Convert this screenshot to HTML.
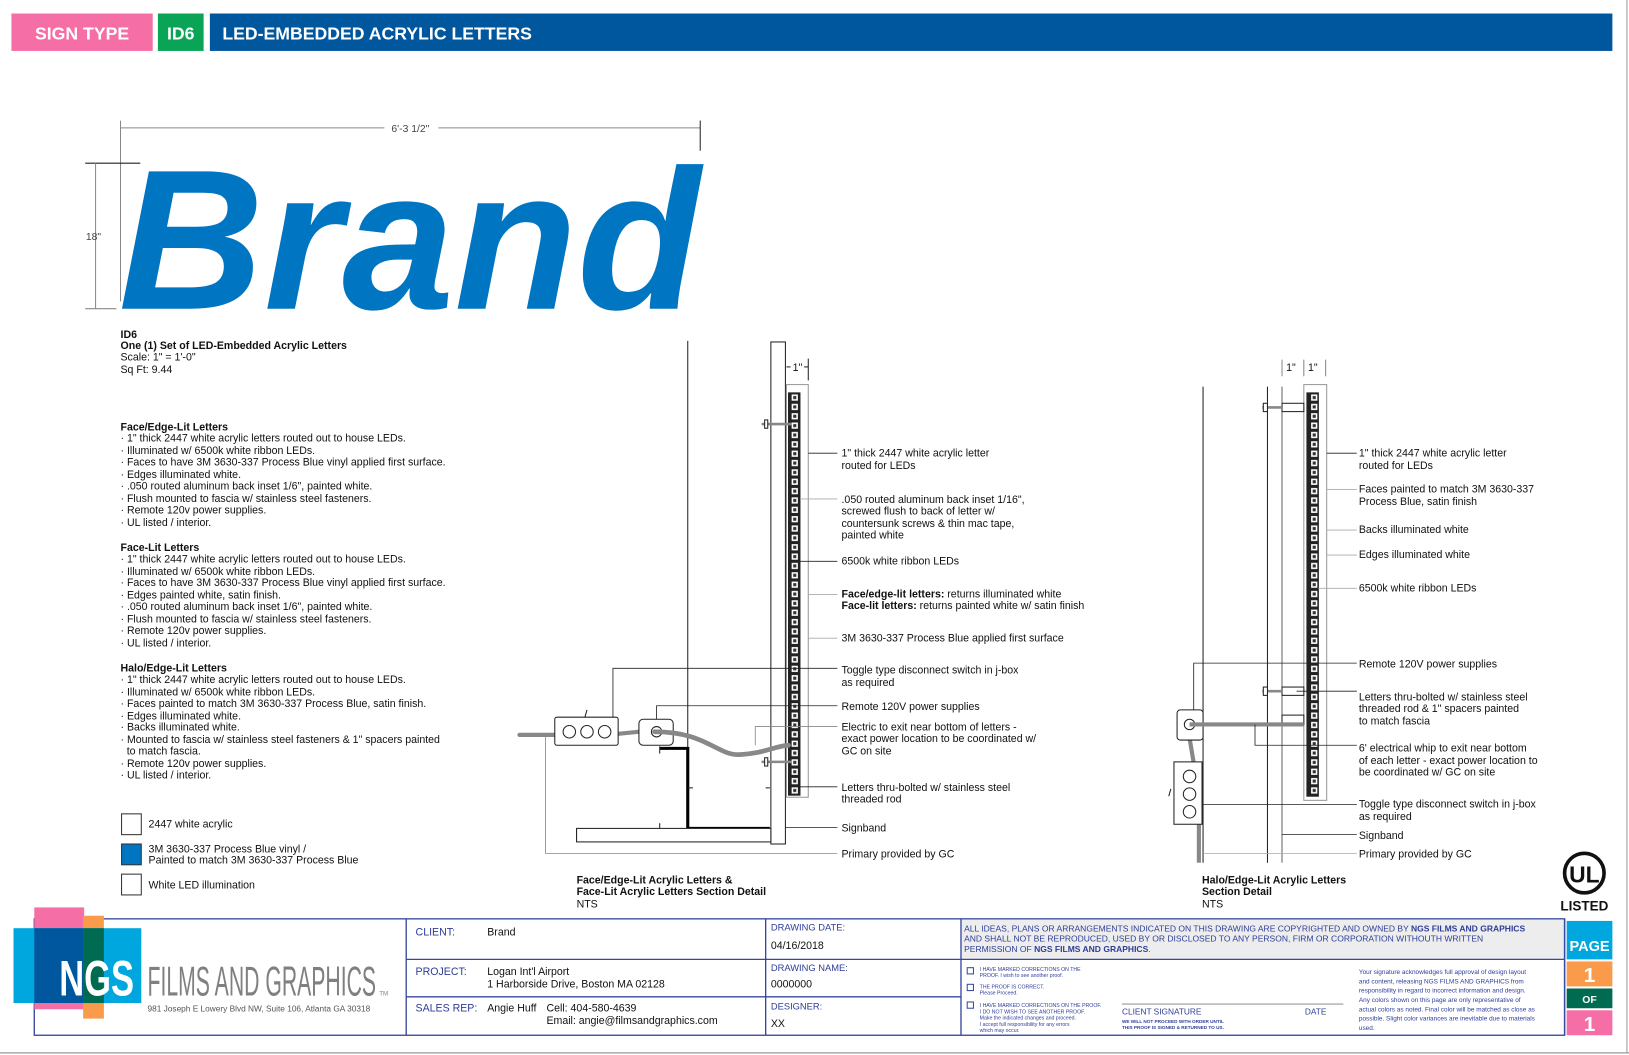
<!DOCTYPE html>
<html><head><meta charset="utf-8"><style>
html,body{margin:0;padding:0;background:#fff;width:1629px;height:1055px;overflow:hidden}
svg{display:block}
text{font-family:"Liberation Sans",Arial,sans-serif;fill:#111}
.t{font-size:10.2px}
.b{font-weight:bold}
.nv{fill:#2e3d98}
</style></head><body>
<svg width="1629" height="1055" viewBox="0 0 1568 1015" preserveAspectRatio="none" xmlns="http://www.w3.org/2000/svg">
<defs>
<pattern id="led" x="0" y="0" width="10" height="9" patternUnits="userSpaceOnUse">
<rect width="10" height="9" fill="#222"/>
<rect x="2" y="1.5" width="6" height="6" fill="#fff"/>
<rect x="3.5" y="3" width="3" height="3" fill="#333"/>
</pattern>
</defs>
<!-- header -->
<rect x="11" y="13" width="136" height="36" fill="#f56fa6"/>
<text x="79" y="38" text-anchor="middle" style="font-size:17px;font-weight:bold;fill:#fff">SIGN TYPE</text>
<rect x="152" y="13" width="44" height="36" fill="#0aa457"/>
<text x="174" y="38" text-anchor="middle" style="font-size:17px;font-weight:bold;fill:#fff">ID6</text>
<rect x="202" y="13" width="1350" height="36" fill="#00579e"/>
<text x="214" y="38" style="font-size:17px;font-weight:bold;fill:#fff">LED-EMBEDDED ACRYLIC LETTERS</text>
<!-- page edges -->
<line x1="1566" y1="0" x2="1566" y2="1013" stroke="#999" stroke-width="1"/>
<line x1="0" y1="1013" x2="1568" y2="1013" stroke="#999" stroke-width="1.2"/>

<!-- dimensions -->
<line x1="116" y1="116" x2="116" y2="290" stroke="#888"/>
<line x1="116" y1="123" x2="370" y2="123" stroke="#888"/>
<line x1="422" y1="123" x2="674" y2="123" stroke="#888"/>
<line x1="674" y1="116" x2="674" y2="145" stroke="#222"/>
<text x="395" y="127" text-anchor="middle" class="t" style="font-size:10px;fill:#444">6'-3 1/2"</text>
<line x1="82" y1="157" x2="135" y2="157" stroke="#222"/>
<line x1="92" y1="157" x2="92" y2="297" stroke="#888"/>
<line x1="82" y1="297" x2="112" y2="297" stroke="#888"/>
<text x="90" y="231" text-anchor="middle" style="font-size:10px;fill:#444">18"</text>
<text x="114" y="297" style="font-size:192px;font-weight:bold;font-style:italic;fill:#0075c2" textLength="560" lengthAdjust="spacingAndGlyphs">Brand</text>

<!-- left notes -->
<g class="t">
<text x="116" y="325" class="b">ID6</text>
<text x="116" y="336" class="b">One (1) Set of LED-Embedded Acrylic Letters</text>
<text x="116" y="347">Scale: 1" = 1'-0"</text>
<text x="116" y="359">Sq Ft: 9.44</text>
<text x="116" y="414" class="b">Face/Edge-Lit Letters</text>
<text x="116" y="425">· 1" thick 2447 white acrylic letters routed out to house LEDs.</text>
<text x="116" y="437">· Illuminated w/ 6500k white ribbon LEDs.</text>
<text x="116" y="448">· Faces to have 3M 3630-337 Process Blue vinyl applied first surface.</text>
<text x="116" y="460">· Edges illuminated white.</text>
<text x="116" y="471">· .050 routed aluminum back inset 1/6", painted white.</text>
<text x="116" y="483">· Flush mounted to fascia w/ stainless steel fasteners.</text>
<text x="116" y="494">· Remote 120v power supplies.</text>
<text x="116" y="506">· UL listed / interior.</text>
<text x="116" y="530" class="b">Face-Lit Letters</text>
<text x="116" y="541">· 1" thick 2447 white acrylic letters routed out to house LEDs.</text>
<text x="116" y="553">· Illuminated w/ 6500k white ribbon LEDs.</text>
<text x="116" y="564">· Faces to have 3M 3630-337 Process Blue vinyl applied first surface.</text>
<text x="116" y="576">· Edges painted white, satin finish.</text>
<text x="116" y="587">· .050 routed aluminum back inset 1/6", painted white.</text>
<text x="116" y="599">· Flush mounted to fascia w/ stainless steel fasteners.</text>
<text x="116" y="610">· Remote 120v power supplies.</text>
<text x="116" y="622">· UL listed / interior.</text>
<text x="116" y="646" class="b">Halo/Edge-Lit Letters</text>
<text x="116" y="657">· 1" thick 2447 white acrylic letters routed out to house LEDs.</text>
<text x="116" y="669">· Illuminated w/ 6500k white ribbon LEDs.</text>
<text x="116" y="680">· Faces painted to match 3M 3630-337 Process Blue, satin finish.</text>
<text x="116" y="692">· Edges illuminated white.</text>
<text x="116" y="703">· Backs illuminated white.</text>
<text x="116" y="715">· Mounted to fascia w/ stainless steel fasteners &amp; 1" spacers painted</text>
<text x="122" y="726">to match fascia.</text>
<text x="116" y="738">· Remote 120v power supplies.</text>
<text x="116" y="749">· UL listed / interior.</text>
<rect x="117" y="783" width="19" height="20" fill="#fff" stroke="#333"/>
<text x="143" y="796">2447 white acrylic</text>
<rect x="117" y="812" width="19" height="20" fill="#0075c2" stroke="#333"/>
<text x="143" y="820">3M 3630-337 Process Blue vinyl /</text>
<text x="143" y="831">Painted to match 3M 3630-337 Process Blue</text>
<rect x="117" y="841" width="19" height="20" fill="#fff" stroke="#333"/>
<text x="143" y="855">White LED illumination</text>
</g>

<!-- middle section -->
<g stroke="#222" fill="none" stroke-width="1">
<line x1="662" y1="328" x2="662" y2="797"/>
<rect x="742" y="329" width="14" height="483" fill="#fff"/>
<rect x="757" y="370" width="21" height="397" stroke="#999"/>
<rect x="759" y="378" width="11" height="387" fill="url(#led)" stroke="#222"/>
<line x1="757" y1="353" x2="761" y2="353"/><line x1="778" y1="345" x2="778" y2="366"/>
<line x1="774" y1="353" x2="778" y2="353"/>
<line x1="733" y1="408" x2="762" y2="408" stroke="#888" stroke-width="2.5"/>
<rect x="736" y="404" width="3" height="8" fill="#fff"/>
<line x1="733" y1="733" x2="762" y2="733" stroke="#888" stroke-width="2.5"/>
<rect x="736" y="729" width="3" height="8" fill="#fff"/>
<path d="M635 720 H662 V797 H741" stroke="#000" stroke-width="3"/>
<line x1="635" y1="718" x2="635" y2="725"/><line x1="635" y1="792" x2="635" y2="800"/>
<line x1="662" y1="758" x2="667" y2="758"/><line x1="737" y1="758" x2="741" y2="758"/>
<rect x="555" y="797" width="187" height="13" fill="#fff"/>
<path d="M500 707 H534" stroke="#888" stroke-width="4" stroke-linecap="round"/>
<path d="M595 706 L615 704" stroke="#888" stroke-width="4"/>
<rect x="534" y="690" width="61" height="27" rx="2" fill="#fff"/>
<circle cx="548" cy="704" r="6"/><circle cx="565" cy="704" r="6"/><circle cx="582" cy="704" r="6"/>
<line x1="563" y1="690" x2="565" y2="683"/>
<rect x="615" y="692" width="33" height="25" rx="4" fill="#fff"/>
<circle cx="632" cy="704" r="5"/>
<path d="M630 704 C680 704 690 727 712 726 C735 725 745 718 759 717" stroke="#888" stroke-width="4.5" stroke-linecap="round"/>
</g>
<g stroke="#222" stroke-width="0.8" fill="none">
<line x1="778" y1="436" x2="806" y2="436"/>
<line x1="770" y1="480" x2="806" y2="480" stroke="#aaa"/>
<line x1="770" y1="540" x2="806" y2="540"/>
<line x1="778" y1="572" x2="806" y2="572" stroke="#aaa"/>
<line x1="778" y1="614" x2="806" y2="614" stroke="#aaa"/>
<polyline points="590,690 590,643 806,643"/>
<polyline points="632,692 632,679 806,679"/>
<polyline points="727,717 727,699 806,699" stroke="#888"/>
<polyline points="770,731 770,757 806,757"/>
<line x1="756" y1="796" x2="806" y2="796"/>
<polyline points="525,708 525,821 806,821" stroke="#888"/>
<line x1="555" y1="810" x2="555" y2="797"/>
</g>
<g class="t">
<text x="763" y="357">1"</text>
<text x="810" y="439">1" thick 2447 white acrylic letter</text>
<text x="810" y="451">routed for LEDs</text>
<text x="810" y="484">.050 routed aluminum back inset 1/16",</text>
<text x="810" y="495">screwed flush to back of letter w/</text>
<text x="810" y="507">countersunk screws &amp; thin mac tape,</text>
<text x="810" y="518">painted white</text>
<text x="810" y="543">6500k white ribbon LEDs</text>
<text x="810" y="575"><tspan class="b">Face/edge-lit letters:</tspan> returns illuminated white</text>
<text x="810" y="586"><tspan class="b">Face-lit letters:</tspan> returns painted white w/ satin finish</text>
<text x="810" y="617">3M 3630-337 Process Blue applied first surface</text>
<text x="810" y="648">Toggle type disconnect switch in j-box</text>
<text x="810" y="660">as required</text>
<text x="810" y="683">Remote 120V power supplies</text>
<text x="810" y="703">Electric to exit near bottom of letters -</text>
<text x="810" y="714">exact power location to be coordinated w/</text>
<text x="810" y="726">GC on site</text>
<text x="810" y="761">Letters thru-bolted w/ stainless steel</text>
<text x="810" y="772">threaded rod</text>
<text x="810" y="800">Signband</text>
<text x="810" y="825">Primary provided by GC</text>
<text x="555" y="850" class="b">Face/Edge-Lit Acrylic Letters &amp;</text>
<text x="555" y="861" class="b">Face-Lit Acrylic Letters Section Detail</text>
<text x="555" y="873">NTS</text>
</g>

<!-- right section -->
<g stroke="#222" fill="none" stroke-width="1">
<line x1="1158" y1="372" x2="1158" y2="830"/>
<line x1="1220" y1="372" x2="1220" y2="830"/>
<line x1="1234" y1="372" x2="1234" y2="830" stroke="#666"/>
<line x1="1234" y1="346" x2="1234" y2="362" stroke="#888"/><line x1="1255" y1="346" x2="1255" y2="362" stroke="#888"/><line x1="1276" y1="346" x2="1276" y2="362" stroke="#888"/>
<rect x="1255" y="370" width="22" height="400" stroke="#999"/>
<rect x="1258" y="378" width="11" height="388" fill="url(#led)"/>
<rect x="1234" y="388" width="21" height="8" fill="#fff"/>
<rect x="1234" y="661" width="21" height="8" fill="#fff"/>
<rect x="1234" y="688" width="21" height="9" fill="#fff"/>
<line x1="1215" y1="392" x2="1234" y2="392" stroke="#888" stroke-width="2.5"/>
<line x1="1215" y1="665" x2="1234" y2="665" stroke="#888" stroke-width="2.5"/>
<rect x="1216" y="388" width="4" height="8" fill="#fff"/><rect x="1216" y="661" width="4" height="8" fill="#fff"/>
<path d="M1145 710 L1150 740" stroke="#888" stroke-width="4"/>
<path d="M1154 793 V830" stroke="#888" stroke-width="4"/>
<rect x="1133" y="683" width="25" height="29" rx="3" fill="#fff"/>
<circle cx="1145" cy="697" r="5"/>
<line x1="1145" y1="697" x2="1255" y2="697" stroke="#888" stroke-width="4"/>
<rect x="1130" y="733" width="27" height="60" fill="#fff"/>
<circle cx="1145" cy="747" r="6"/><circle cx="1145" cy="764" r="6"/><circle cx="1145" cy="781" r="6"/>
<line x1="1125" y1="766" x2="1127" y2="759"/>
</g>
<g stroke="#222" stroke-width="0.8" fill="none">
<line x1="1277" y1="436" x2="1306" y2="436"/>
<line x1="1277" y1="471" x2="1306" y2="471" stroke="#aaa"/>
<line x1="1277" y1="510" x2="1306" y2="510" stroke="#aaa"/>
<line x1="1277" y1="534" x2="1306" y2="534" stroke="#aaa"/>
<line x1="1269" y1="566" x2="1306" y2="566" stroke="#aaa"/>
<polyline points="1149,683 1149,638 1306,638"/>
<polyline points="1248,665 1306,665" />
<polyline points="1208,697 1208,717 1306,717"/>
<line x1="1158" y1="774" x2="1306" y2="774"/>
<line x1="1234" y1="803" x2="1306" y2="803"/>
<line x1="1158" y1="821" x2="1306" y2="821" stroke="#aaa"/>
</g>
<g class="t">
<text x="1238" y="357">1"</text><text x="1259" y="357">1"</text>
<text x="1308" y="439">1" thick 2447 white acrylic letter</text>
<text x="1308" y="451">routed for LEDs</text>
<text x="1308" y="474">Faces painted to match 3M 3630-337</text>
<text x="1308" y="486">Process Blue, satin finish</text>
<text x="1308" y="513">Backs illuminated white</text>
<text x="1308" y="537">Edges illuminated white</text>
<text x="1308" y="569">6500k white ribbon LEDs</text>
<text x="1308" y="642">Remote 120V power supplies</text>
<text x="1308" y="674">Letters thru-bolted w/ stainless steel</text>
<text x="1308" y="685">threaded rod &amp; 1" spacers painted</text>
<text x="1308" y="697">to match fascia</text>
<text x="1308" y="723">6' electrical whip to exit near bottom</text>
<text x="1308" y="735">of each letter - exact power location to</text>
<text x="1308" y="746">be coordinated w/ GC on site</text>
<text x="1308" y="777">Toggle type disconnect switch in j-box</text>
<text x="1308" y="789">as required</text>
<text x="1308" y="807">Signband</text>
<text x="1308" y="825">Primary provided by GC</text>
<text x="1157" y="850" class="b">Halo/Edge-Lit Acrylic Letters</text>
<text x="1157" y="861" class="b">Section Detail</text>
<text x="1157" y="873">NTS</text>
</g>
<circle cx="1525" cy="840" r="19" fill="none" stroke="#111" stroke-width="3.5"/>
<text x="1525" y="849" text-anchor="middle" style="font-size:22px;font-weight:bold">UL</text>
<text x="1525" y="876" text-anchor="middle" style="font-size:13px;font-weight:bold">LISTED</text>

<!-- title block -->
<rect x="925" y="885" width="581" height="38" fill="#ededed"/>
<g stroke="#3848a0" stroke-width="1.3" fill="none">
<rect x="33" y="884" width="1473" height="112"/>
<line x1="391" y1="884" x2="391" y2="996"/>
<line x1="737" y1="884" x2="737" y2="996"/>
<line x1="925" y1="884" x2="925" y2="996"/>
<line x1="391" y1="923" x2="1506" y2="923"/>
<line x1="391" y1="959" x2="925" y2="959"/>
<line x1="1506" y1="884" x2="1506" y2="996"/>
</g>
<rect x="1508" y="886" width="44" height="37" fill="#00a6de"/>
<text x="1530" y="915" text-anchor="middle" style="font-size:14px;font-weight:bold;fill:#fff">PAGE</text>
<rect x="1508" y="925" width="44" height="24" fill="#f99b4a"/>
<text x="1530" y="945" text-anchor="middle" style="font-size:20px;font-weight:bold;fill:#fff">1</text>
<rect x="1508" y="951" width="44" height="19" fill="#006b50"/>
<text x="1530" y="965" text-anchor="middle" style="font-size:10px;font-weight:bold;fill:#fff">OF</text>
<rect x="1508" y="972" width="44" height="24" fill="#f56fa6"/>
<text x="1530" y="992" text-anchor="middle" style="font-size:20px;font-weight:bold;fill:#fff">1</text>

<rect x="33" y="873" width="48" height="98" fill="#f56fa6"/>
<rect x="80" y="881" width="20" height="99" fill="#f99b4a"/>
<rect x="13" y="893" width="123" height="72" fill="#00a6de"/>
<rect x="33" y="893" width="47" height="72" fill="#00579e"/>
<rect x="80" y="893" width="20" height="72" fill="#006b50"/>
<text x="93" y="958" text-anchor="middle" style="font-size:48px;font-weight:bold;fill:#fff" textLength="72" lengthAdjust="spacingAndGlyphs">NGS</text>
<text x="142" y="958" style="font-size:40px;fill:#808080" textLength="220" lengthAdjust="spacingAndGlyphs">FILMS AND GRAPHICS</text>
<text x="365" y="958" style="font-size:6px;fill:#808080">TM</text>
<text x="142" y="973" style="font-size:8px;fill:#555">981 Joseph E Lowery Blvd NW, Suite 106, Atlanta GA 30318</text>

<g class="t">
<text x="400" y="900" class="nv">CLIENT:</text><text x="469" y="900">Brand</text>
<text x="400" y="938" class="nv">PROJECT:</text><text x="469" y="938">Logan Int'l Airport</text>
<text x="469" y="950">1 Harborside Drive, Boston MA 02128</text>
<text x="400" y="973" class="nv">SALES REP:</text><text x="469" y="973">Angie Huff</text><text x="526" y="973">Cell: 404-580-4639</text>
<text x="526" y="985">Email: angie@filmsandgraphics.com</text>
<text x="742" y="895" class="nv" style="font-size:9px">DRAWING DATE:</text><text x="742" y="913">04/16/2018</text>
<text x="742" y="934" class="nv" style="font-size:9px">DRAWING NAME:</text><text x="742" y="950">0000000</text>
<text x="742" y="971" class="nv" style="font-size:9px">DESIGNER:</text><text x="742" y="988">XX</text>
</g>
<text x="928" y="896" class="nv" style="font-size:8.2px">ALL IDEAS, PLANS OR ARRANGEMENTS INDICATED ON THIS DRAWING ARE COPYRIGHTED AND OWNED BY <tspan font-weight="bold">NGS FILMS AND GRAPHICS</tspan></text>
<text x="928" y="906" class="nv" style="font-size:8.2px">AND SHALL NOT BE REPRODUCED, USED BY OR DISCLOSED TO ANY PERSON, FIRM OR CORPORATION WITHOUTH WRITTEN</text>
<text x="928" y="916" class="nv" style="font-size:8.2px">PERMISSION OF <tspan font-weight="bold">NGS FILMS AND GRAPHICS</tspan>.</text>
<g fill="none" stroke="#3848a0" stroke-width="1">
<rect x="931" y="931" width="6" height="6"/><rect x="931" y="947" width="6" height="6"/><rect x="931" y="964" width="6" height="6"/>
<line x1="1080" y1="966" x2="1293" y2="966" stroke="#999"/>
</g>
<g>
<text x="943" y="934" class="nv" style="font-size:5px">I HAVE MARKED CORRECTIONS ON THE</text>
<text x="943" y="940" class="nv" style="font-size:5px">PROOF. I wish to see another proof.</text>
<text x="943" y="951" class="nv" style="font-size:5px">THE PROOF IS CORRECT.</text>
<text x="943" y="957" class="nv" style="font-size:5px">Please Proceed.</text>
<text x="943" y="969" class="nv" style="font-size:5px">I HAVE MARKED CORRECTIONS ON THE PROOF.</text>
<text x="943" y="975" class="nv" style="font-size:5px">I DO NOT WISH TO SEE ANOTHER PROOF.</text>
<text x="943" y="981" class="nv" style="font-size:5px">Make the indicated changes and proceed.</text>
<text x="943" y="987" class="nv" style="font-size:5px">I accept full responsibility for any errors</text>
<text x="943" y="993" class="nv" style="font-size:5px">which may occur.</text>
<text x="1080" y="976" class="nv" style="font-size:8px">CLIENT SIGNATURE</text>
<text x="1256" y="976" class="nv" style="font-size:8px">DATE</text>
<text x="1080" y="984" class="nv" style="font-size:4.5px;font-weight:bold">WE WILL NOT PROCEED WITH ORDER UNTIL</text>
<text x="1080" y="990" class="nv" style="font-size:4.5px;font-weight:bold">THIS PROOF IS SIGNED &amp; RETURNED TO US.</text>
<text x="1308" y="937" class="nv" style="font-size:6.2px">Your signature acknowledges full approval of design layout</text>
<text x="1308" y="946" class="nv" style="font-size:6.2px">and content, releasing NGS FILMS AND GRAPHICS from</text>
<text x="1308" y="955" class="nv" style="font-size:6.2px">responsibility in regard to incorrect information and design.</text>
<text x="1308" y="964" class="nv" style="font-size:6.2px">Any colors shown on this page are only representative of</text>
<text x="1308" y="973" class="nv" style="font-size:6.2px">actual colors as noted. Final color will be matched as close as</text>
<text x="1308" y="982" class="nv" style="font-size:6.2px">possible. Slight color variances are inevitable due to materials</text>
<text x="1308" y="991" class="nv" style="font-size:6.2px">used.</text>
</g>
</svg>
</body></html>
